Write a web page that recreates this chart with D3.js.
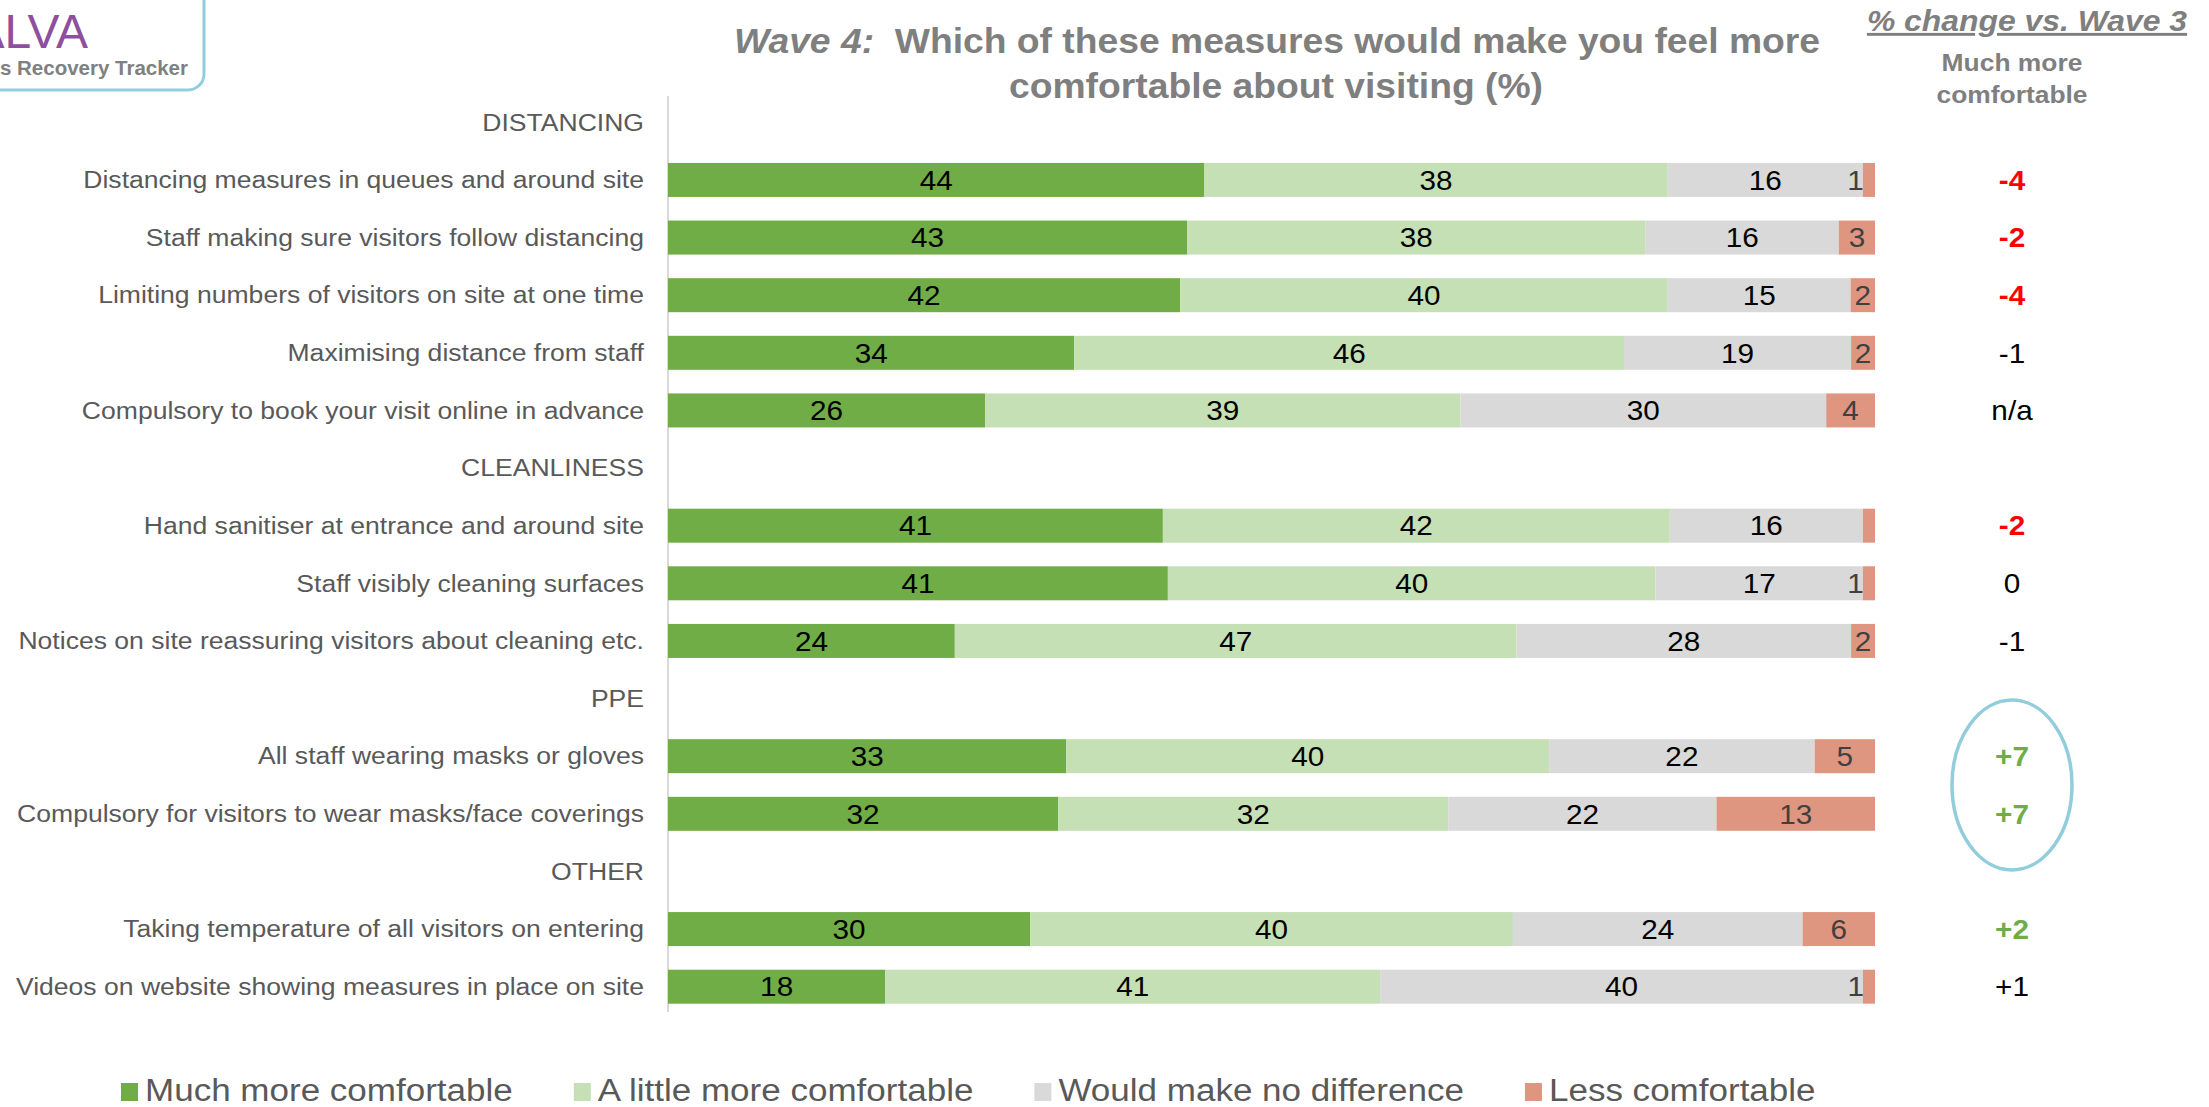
<!DOCTYPE html>
<html><head><meta charset="utf-8">
<script src="https://cdn.jsdelivr.net/npm/d3@7"></script>
<style>
body{margin:0;background:#fff;}
svg{display:block;font-family:"Liberation Sans",Arial,Helvetica,sans-serif;}
</style>
</head><body>
<svg id="chart" width="2209" height="1107"></svg>
<script>
// ---------------- DATA ----------------
const groups = ["DISTANCING", "CLEANLINESS", "PPE", "OTHER"];
const measures = [
  "Distancing measures in queues and around site",
  "Staff making sure visitors follow distancing",
  "Limiting numbers of visitors on site at one time",
  "Maximising distance from staff",
  "Compulsory to book your visit online in advance",
  "Hand sanitiser at entrance and around site",
  "Staff visibly cleaning surfaces",
  "Notices on site reassuring visitors about cleaning etc.",
  "All staff wearing masks or gloves",
  "Compulsory for visitors to wear masks/face coverings",
  "Taking temperature of all visitors on entering",
  "Videos on website showing measures in place on site"
];
const measureGroup = [0, 0, 0, 0, 0, 1, 1, 1, 2, 2, 3, 3];
const seriesNames = ["Much more comfortable", "A little more comfortable", "Would make no difference", "Less comfortable"];
const muchMore      = [44, 43, 42, 34, 26, 41, 41, 24, 33, 32, 30, 18];
const littleMore    = [38, 38, 40, 46, 39, 42, 40, 47, 40, 32, 40, 41];
const noDifference  = [16, 16, 15, 19, 30, 16, 17, 28, 22, 22, 24, 40];
const lessComf      = [1, 3, 2, 2, 4, 1, 1, 2, 5, 13, 6, 1];
const lessLabels    = ["1", "3", "2", "2", "4", "", "1", "2", "5", "13", "6", "1"];
const changeVsWave3 = ["-4", "-2", "-4", "-1", "n/a", "-2", "0", "-1", "+7", "+7", "+2", "+1"];
const highlightedRows = [8, 9];

const titleItalic = "Wave 4:";
const titleLine1 = "Which of these measures would make you feel more";
const titleLine2 = "comfortable about visiting (%)";
const sideHeader = "% change vs. Wave 3";
const sideSub = ["Much more", "comfortable"];

// ---------------- STYLE ----------------
const colors = ["#70AD47", "#C5E0B4", "#D9D9D9", "#DF9680"];
const labelColors = ["#000000", "#000000", "#000000", "#404040"];
const SX = 1.13; // horizontal stretch of the reference text

const svg = d3.select("#chart");

// build slot list (group headers + measures)
const slots = [];
groups.forEach((g, gi) => {
  slots.push({type: "header", label: g, key: "h" + gi});
  measures.forEach((m, i) => {
    if (measureGroup[i] === gi) slots.push({type: "row", label: m, key: "r" + i, idx: i});
  });
});

const y = d3.scaleBand()
  .domain(slots.map(d => d.key))
  .range([93.5, 1015.5])
  .paddingInner(0.41)
  .paddingOuter(0.205);

const x = d3.scaleLinear().domain([0, 1]).range([668, 1875]);

function stext(sel, px, py, sx) {
  return sel.attr("transform", `translate(${px},${py}) scale(${sx || SX},1)`);
}

// axis line
svg.append("line")
  .attr("x1", x(0)).attr("x2", x(0))
  .attr("y1", 96).attr("y2", 1012)
  .attr("stroke", "#D9D9D9").attr("stroke-width", 2);

// category labels
slots.forEach(s => {
  const t = svg.append("text")
    .attr("text-anchor", "end")
    .attr("font-size", 23.5)
    .attr("fill", "#595959")
    .text(s.label);
  stext(t, 644, y(s.key) + y.bandwidth() / 2 + 8.3);
});

// stacked bars
const seriesData = [muchMore, littleMore, noDifference, lessComf];
const rowSlots = slots.filter(s => s.type === "row");
rowSlots.forEach(s => {
  const i = s.idx;
  const vals = seriesData.map(a => a[i]);
  const total = d3.sum(vals);
  let cum = 0;
  vals.forEach((v, k) => {
    const x0 = x(cum / total), x1 = x((cum + v) / total);
    cum += v;
    svg.append("rect")
      .attr("x", x0).attr("y", y(s.key))
      .attr("width", x1 - x0).attr("height", y.bandwidth())
      .attr("fill", colors[k]);
    const lab = k === 3 ? lessLabels[i] : String(v);
    if (lab) {
      const w = x1 - x0;
      const t = svg.append("text")
        .attr("font-size", 27)
        .attr("fill", labelColors[k])
        .attr("text-anchor", w < 16 ? "end" : "middle")
        .text(lab);
      stext(t, w < 16 ? x0 + 1 : (x0 + x1) / 2, y(s.key) + y.bandwidth() / 2 + 9.7, 1.1);
    }
  });
  // change vs wave 3
  const c = changeVsWave3[i];
  const n = parseFloat(c);
  const sig = !isNaN(n) && Math.abs(n) >= 2;
  const t = svg.append("text")
    .attr("text-anchor", "middle")
    .attr("font-size", 27)
    .attr("font-weight", sig ? "bold" : "normal")
    .attr("fill", sig ? (n > 0 ? "#70AD47" : "#FF0000") : "#000000")
    .text(c);
  stext(t, 2012, y(s.key) + y.bandwidth() / 2 + 9.7, 1.1);
});

// highlight ellipse
const ey = d3.mean(highlightedRows, i => y("r" + i) + y.bandwidth() / 2);
svg.append("ellipse")
  .attr("cx", 2012).attr("cy", ey)
  .attr("rx", 60).attr("ry", 85)
  .attr("fill", "none").attr("stroke", "#92CDDC").attr("stroke-width", 3.5);

// title
const t1 = svg.append("text").attr("text-anchor", "middle")
  .attr("font-size", 35.5).attr("font-weight", "bold").attr("fill", "#7F7F7F");
t1.append("tspan").attr("font-style", "italic").text(titleItalic);
t1.append("tspan").attr("xml:space", "preserve").text("\u00a0 " + titleLine1);
stext(t1, 1277, 52.5, 1.05);
const t2 = svg.append("text").attr("text-anchor", "middle")
  .attr("font-size", 35.5).attr("font-weight", "bold").attr("fill", "#7F7F7F")
  .text(titleLine2);
stext(t2, 1276, 98, 1.05);

// side header
const sh = svg.append("text").attr("text-anchor", "middle")
  .attr("font-size", 29).attr("font-weight", "bold").attr("font-style", "italic")
  .attr("fill", "#7F7F7F").attr("text-decoration", "underline")
  .text(sideHeader);
stext(sh, 2027, 31, 1.1);
sideSub.forEach((s, k) => {
  const t = svg.append("text").attr("text-anchor", "middle")
    .attr("font-size", 24).attr("font-weight", "bold").attr("fill", "#7F7F7F")
    .text(s);
  stext(t, 2012, 71 + k * 32, 1.1);
});

// logo (cut off at the left edge, as in the reference)
svg.append("rect").attr("x", -30).attr("y", -30).attr("width", 234).attr("height", 120)
  .attr("rx", 16).attr("fill", "none").attr("stroke", "#92CDDC").attr("stroke-width", 3);
const lg = svg.append("text").attr("text-anchor", "end").attr("font-size", 48)
  .attr("fill", "#8E4F9F").text("ALVA");
stext(lg, 88, 48, 1.0);
const lg2 = svg.append("text").attr("text-anchor", "end").attr("font-size", 20.5)
  .attr("font-weight", "bold").attr("fill", "#808080").text("s Recovery Tracker");
stext(lg2, 188, 75, 1.0);

// legend
let lx = 121;
seriesNames.forEach((name, k) => {
  svg.append("rect").attr("x", lx).attr("y", 1083).attr("width", 17).attr("height", 18)
    .attr("fill", colors[k]);
  const t = svg.append("text").attr("font-size", 31).attr("fill", "#595959").text(name);
  stext(t, lx + 24, 1101);
  const w = t.node().getComputedTextLength() * SX;
  lx += 24 + w + 61;
});
</script>
</body></html>
